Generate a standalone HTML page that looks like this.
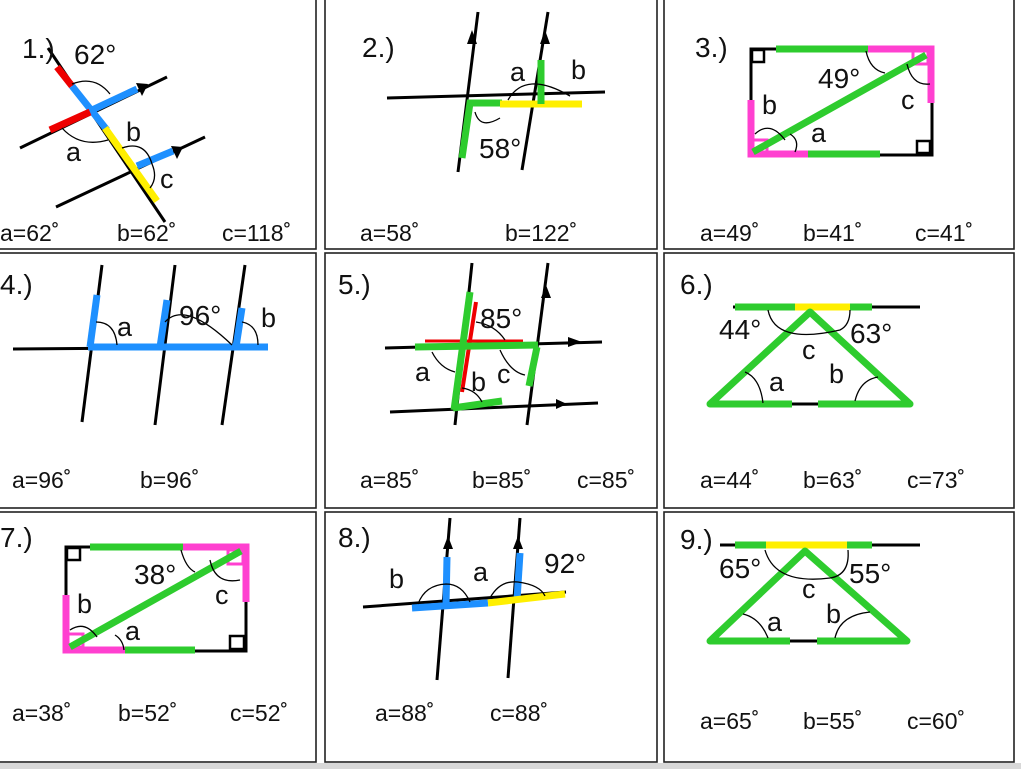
<!DOCTYPE html>
<html><head><style>
html,body{margin:0;padding:0;background:#fff;}
svg{display:block;}
text{font-family:"Liberation Sans",Arial,sans-serif;fill:#111;}
.n{font-size:28px;}
.l{font-size:27px;}
.d{font-size:28px;}
.b{font-size:23px;}
</style></head><body>
<svg width="1021" height="769" viewBox="0 0 1021 769" xmlns="http://www.w3.org/2000/svg">
<rect x="0" y="763" width="1021" height="6" fill="#d8d8d8"/>
<g fill="none" stroke="#222" stroke-width="1.6">
<rect x="-2" y="-2" width="318" height="251"/>
<rect x="325" y="-2" width="332" height="251"/>
<rect x="664" y="-2" width="350" height="251"/>
<rect x="-2" y="253" width="318" height="255"/>
<rect x="325" y="253" width="332" height="255"/>
<rect x="664" y="253" width="350" height="255"/>
<rect x="-2" y="512" width="318" height="250"/>
<rect x="325" y="512" width="332" height="250"/>
<rect x="664" y="512" width="350" height="250"/>
</g>

<!-- Panel 1 -->
<g stroke-linecap="butt">
<line x1="48" y1="48" x2="165" y2="222" stroke="#000" stroke-width="3"/>
<line x1="20" y1="148" x2="167" y2="77" stroke="#000" stroke-width="3"/>
<line x1="56" y1="207" x2="205" y2="137" stroke="#000" stroke-width="3"/>
<polygon points="148,84 136,83 142,96" fill="#000"/>
<polygon points="183,147 171,146 177,159" fill="#000"/>
<line x1="57" y1="67" x2="72" y2="86" stroke="#e00" stroke-width="7"/>
<line x1="72" y1="86" x2="107" y2="130" stroke="#1e90ff" stroke-width="7"/>
<line x1="105" y1="128" x2="157" y2="201" stroke="#ffef00" stroke-width="7"/>
<line x1="50" y1="130" x2="90" y2="112" stroke="#e00" stroke-width="7"/>
<line x1="92" y1="110" x2="137" y2="89" stroke="#1e90ff" stroke-width="7"/>
<line x1="137" y1="166" x2="173" y2="151" stroke="#1e90ff" stroke-width="7"/>
<path d="M72,84 Q95,75 110,94" fill="none" stroke="#000" stroke-width="1.3"/>
<path d="M62,128 Q80,148 108,140" fill="none" stroke="#000" stroke-width="1.3"/>
<path d="M122,148 Q145,140 152,164 Q158,178 150,188" fill="none" stroke="#000" stroke-width="1.3"/>
</g>
<text x="22" y="58" class="n">1.)</text>
<text x="74" y="64" class="d">62°</text>
<text x="66" y="161" class="l">a</text>
<text x="126" y="141" class="l">b</text>
<text x="160" y="188" class="l">c</text>
<text x="0" y="241" class="b">a=62˚</text>
<text x="117" y="241" class="b">b=62˚</text>
<text x="222" y="241" class="b">c=118˚</text>

<!-- Panel 2 -->
<line x1="458" y1="172" x2="478" y2="12" stroke="#000" stroke-width="3"/>
<line x1="522" y1="170" x2="548" y2="12" stroke="#000" stroke-width="3"/>
<polygon points="472,30 467,44 477,44" fill="#000"/>
<polygon points="545,30 540,44 550,44" fill="#000"/>
<line x1="387" y1="98" x2="605" y2="92" stroke="#000" stroke-width="3"/>
<polyline points="462,158 470,103 502,103" fill="none" stroke="#2ecc2e" stroke-width="7"/>
<line x1="500" y1="104" x2="582" y2="104" stroke="#ffef00" stroke-width="7"/>
<line x1="541" y1="60" x2="541" y2="104" stroke="#2ecc2e" stroke-width="7"/>
<path d="M508,100 Q525,70 570,96" fill="none" stroke="#000" stroke-width="1.3"/>
<path d="M475,112 Q480,130 500,118" fill="none" stroke="#000" stroke-width="1.3"/>
<text x="362" y="57" class="n">2.)</text>
<text x="510" y="81" class="l">a</text>
<text x="571" y="79" class="l">b</text>
<text x="479" y="158" class="d">58°</text>
<text x="360" y="241" class="b">a=58˚</text>
<text x="505" y="241" class="b">b=122˚</text>

<!-- Panel 3 -->
<rect x="751" y="49" width="181" height="106" fill="none" stroke="#000" stroke-width="3"/>
<rect x="752" y="50" width="12" height="12" fill="none" stroke="#000" stroke-width="2.5"/>
<rect x="917" y="141" width="13" height="12" fill="none" stroke="#000" stroke-width="2.5"/>
<line x1="776" y1="49" x2="868" y2="49" stroke="#2ecc2e" stroke-width="7"/>
<polyline points="868,49 931,49 931,103" fill="none" stroke="#ff40d0" stroke-width="7"/>
<rect x="913" y="51" width="15" height="13" fill="none" stroke="#ff40d0" stroke-width="3"/>
<polyline points="751,100 751,154 808,154" fill="none" stroke="#ff40d0" stroke-width="7"/>
<rect x="753" y="140" width="14" height="12" fill="none" stroke="#ff40d0" stroke-width="3"/>
<line x1="808" y1="154" x2="880" y2="154" stroke="#2ecc2e" stroke-width="7"/>
<line x1="753" y1="152" x2="926" y2="55" stroke="#2ecc2e" stroke-width="7"/>
<path d="M866,51 Q870,70 885,73" fill="none" stroke="#000" stroke-width="1.3"/>
<path d="M755,134 Q770,120 785,140" fill="none" stroke="#000" stroke-width="1.3"/>
<path d="M795,152 Q800,140 790,134" fill="none" stroke="#000" stroke-width="1.3"/>
<path d="M907,64 Q912,86 930,84" fill="none" stroke="#000" stroke-width="1.3"/>
<text x="695" y="57" class="n">3.)</text>
<text x="818" y="88" class="d">49°</text>
<text x="762" y="114" class="l">b</text>
<text x="811" y="142" class="l">a</text>
<text x="901" y="109" class="l">c</text>
<text x="700" y="241" class="b">a=49˚</text>
<text x="803" y="241" class="b">b=41˚</text>
<text x="915" y="241" class="b">c=41˚</text>

<!-- Panel 4 -->
<line x1="13" y1="349" x2="265" y2="347" stroke="#000" stroke-width="3"/>
<line x1="82" y1="422" x2="102" y2="265" stroke="#000" stroke-width="3"/>
<line x1="155" y1="425" x2="175" y2="265" stroke="#000" stroke-width="3"/>
<line x1="222" y1="425" x2="245" y2="265" stroke="#000" stroke-width="3"/>
<line x1="88" y1="347" x2="268" y2="347" stroke="#1e90ff" stroke-width="7"/>
<line x1="90" y1="347" x2="97" y2="295" stroke="#1e90ff" stroke-width="7"/>
<line x1="160" y1="347" x2="167" y2="300" stroke="#1e90ff" stroke-width="7"/>
<line x1="236" y1="347" x2="242" y2="308" stroke="#1e90ff" stroke-width="7"/>
<path d="M96,322 Q115,322 117,345" fill="none" stroke="#000" stroke-width="1.3"/>
<path d="M165,322 Q185,300 232,345" fill="none" stroke="#000" stroke-width="1.3"/>
<path d="M242,322 Q258,325 258,345" fill="none" stroke="#000" stroke-width="1.3"/>
<text x="0" y="294" class="n">4.)</text>
<text x="117" y="336" class="l">a</text>
<text x="179" y="325" class="d">96°</text>
<text x="261" y="327" class="l">b</text>
<text x="12" y="488" class="b">a=96˚</text>
<text x="140" y="488" class="b">b=96˚</text>

<!-- Panel 5 -->
<line x1="385" y1="348" x2="602" y2="342" stroke="#000" stroke-width="3"/>
<line x1="390" y1="412" x2="598" y2="403" stroke="#000" stroke-width="3"/>
<polygon points="582,342 568,337 568,347" fill="#000"/>
<polygon points="567,404 556,399 556,409" fill="#000"/>
<line x1="455" y1="425" x2="472" y2="263" stroke="#000" stroke-width="3"/>
<line x1="527" y1="425" x2="548" y2="263" stroke="#000" stroke-width="3"/>
<polygon points="546,285 541,298 551,298" fill="#000"/>
<line x1="425" y1="341" x2="523" y2="341" stroke="#e00" stroke-width="3"/>
<line x1="476" y1="302" x2="462" y2="392" stroke="#e00" stroke-width="4"/>
<line x1="415" y1="347" x2="538" y2="345" stroke="#2ecc2e" stroke-width="7"/>
<line x1="470" y1="292" x2="454" y2="410" stroke="#2ecc2e" stroke-width="7"/>
<line x1="453" y1="408" x2="502" y2="401" stroke="#2ecc2e" stroke-width="7"/>
<line x1="537" y1="347" x2="529" y2="386" stroke="#2ecc2e" stroke-width="7"/>
<path d="M476,322 Q495,325 505,340" fill="none" stroke="#000" stroke-width="1.3"/>
<path d="M432,352 Q440,368 455,372" fill="none" stroke="#000" stroke-width="1.3"/>
<path d="M462,388 Q476,390 482,402" fill="none" stroke="#000" stroke-width="1.3"/>
<path d="M500,350 Q510,372 525,375" fill="none" stroke="#000" stroke-width="1.3"/>
<text x="338" y="294" class="n">5.)</text>
<text x="480" y="328" class="d">85°</text>
<text x="415" y="381" class="l">a</text>
<text x="471" y="391" class="l">b</text>
<text x="497" y="383" class="l">c</text>
<text x="360" y="488" class="b">a=85˚</text>
<text x="472" y="488" class="b">b=85˚</text>
<text x="577" y="488" class="b">c=85˚</text>

<!-- Panel 6 -->
<line x1="733" y1="307" x2="920" y2="307" stroke="#000" stroke-width="3"/>
<line x1="735" y1="307" x2="795" y2="307" stroke="#2ecc2e" stroke-width="7"/>
<line x1="795" y1="307" x2="850" y2="307" stroke="#ffef00" stroke-width="7"/>
<line x1="850" y1="307" x2="872" y2="307" stroke="#2ecc2e" stroke-width="7"/>
<line x1="790" y1="404" x2="818" y2="404" stroke="#000" stroke-width="3"/>
<polyline points="792,404 710,404 810,312 910,404 818,404" fill="none" stroke="#2ecc2e" stroke-width="7" stroke-linejoin="round"/>
<path d="M768,310 Q775,345 840,330 Q850,325 850,310" fill="none" stroke="#000" stroke-width="1.3"/>
<path d="M745,372 Q760,378 763,403" fill="none" stroke="#000" stroke-width="1.3"/>
<path d="M855,401 Q860,380 878,377" fill="none" stroke="#000" stroke-width="1.3"/>
<text x="680" y="294" class="n">6.)</text>
<text x="719" y="339" class="d">44°</text>
<text x="850" y="343" class="d">63°</text>
<text x="802" y="359" class="l">c</text>
<text x="769" y="391" class="l">a</text>
<text x="829" y="383" class="l">b</text>
<text x="700" y="488" class="b">a=44˚</text>
<text x="803" y="488" class="b">b=63˚</text>
<text x="907" y="488" class="b">c=73˚</text>

<!-- Panel 7 -->
<rect x="66" y="547" width="180" height="104" fill="none" stroke="#000" stroke-width="3"/>
<rect x="67" y="548" width="13" height="12" fill="none" stroke="#000" stroke-width="2.5"/>
<rect x="230" y="636" width="14" height="13" fill="none" stroke="#000" stroke-width="2.5"/>
<line x1="90" y1="547" x2="183" y2="547" stroke="#2ecc2e" stroke-width="7"/>
<polyline points="183,547 246,547 246,602" fill="none" stroke="#ff40d0" stroke-width="7"/>
<rect x="228" y="550" width="15" height="14" fill="none" stroke="#ff40d0" stroke-width="3"/>
<polyline points="66,595 66,650 125,650" fill="none" stroke="#ff40d0" stroke-width="7"/>
<rect x="68" y="634" width="15" height="13" fill="none" stroke="#ff40d0" stroke-width="3"/>
<line x1="125" y1="650" x2="195" y2="650" stroke="#2ecc2e" stroke-width="7"/>
<line x1="70" y1="647" x2="241" y2="551" stroke="#2ecc2e" stroke-width="7"/>
<path d="M181,550 Q186,568 195,572" fill="none" stroke="#000" stroke-width="1.3"/>
<path d="M70,630 Q85,620 97,637" fill="none" stroke="#000" stroke-width="1.3"/>
<path d="M115,635 Q123,640 124,650" fill="none" stroke="#000" stroke-width="1.3"/>
<path d="M210,560 Q215,585 240,580" fill="none" stroke="#000" stroke-width="1.3"/>
<text x="0" y="547" class="n">7.)</text>
<text x="134" y="584" class="d">38°</text>
<text x="77" y="613" class="l">b</text>
<text x="215" y="604" class="l">c</text>
<text x="125" y="640" class="l">a</text>
<text x="12" y="721" class="b">a=38˚</text>
<text x="118" y="721" class="b">b=52˚</text>
<text x="230" y="721" class="b">c=52˚</text>

<!-- Panel 8 -->
<line x1="363" y1="607" x2="566" y2="592" stroke="#000" stroke-width="3"/>
<line x1="437" y1="680" x2="450" y2="518" stroke="#000" stroke-width="3"/>
<line x1="508" y1="678" x2="520" y2="518" stroke="#000" stroke-width="3"/>
<polygon points="448,536 443,549 453,549" fill="#000"/>
<polygon points="518,536 513,549 523,549" fill="#000"/>
<line x1="447" y1="557" x2="446" y2="605" stroke="#1e90ff" stroke-width="7"/>
<line x1="412" y1="608" x2="488" y2="603" stroke="#1e90ff" stroke-width="7"/>
<line x1="520" y1="553" x2="517" y2="600" stroke="#1e90ff" stroke-width="7"/>
<line x1="488" y1="603" x2="565" y2="594" stroke="#ffef00" stroke-width="7"/>
<path d="M418,604 Q425,585 446,584 Q462,584 470,602" fill="none" stroke="#000" stroke-width="1.3"/>
<path d="M490,598 Q500,580 518,582 Q540,585 545,596" fill="none" stroke="#000" stroke-width="1.3"/>
<text x="338" y="547" class="n">8.)</text>
<text x="389" y="588" class="l">b</text>
<text x="473" y="581" class="l">a</text>
<text x="544" y="573" class="d">92°</text>
<text x="375" y="721" class="b">a=88˚</text>
<text x="490" y="721" class="b">c=88˚</text>

<!-- Panel 9 -->
<line x1="720" y1="545" x2="920" y2="545" stroke="#000" stroke-width="3"/>
<line x1="735" y1="545" x2="766" y2="545" stroke="#2ecc2e" stroke-width="7"/>
<line x1="766" y1="545" x2="847" y2="545" stroke="#ffef00" stroke-width="7"/>
<line x1="847" y1="545" x2="872" y2="545" stroke="#2ecc2e" stroke-width="7"/>
<line x1="790" y1="641" x2="817" y2="641" stroke="#000" stroke-width="3"/>
<polyline points="790,641 710,641 805,551 907,641 817,641" fill="none" stroke="#2ecc2e" stroke-width="7" stroke-linejoin="round"/>
<path d="M765,550 Q775,585 830,578 Q850,575 848,550" fill="none" stroke="#000" stroke-width="1.3"/>
<path d="M743,614 Q760,618 768,638" fill="none" stroke="#000" stroke-width="1.3"/>
<path d="M835,638 Q840,615 870,612" fill="none" stroke="#000" stroke-width="1.3"/>
<text x="680" y="549" class="n">9.)</text>
<text x="719" y="578" class="d">65°</text>
<text x="849" y="583" class="d">55°</text>
<text x="802" y="598" class="l">c</text>
<text x="767" y="631" class="l">a</text>
<text x="826" y="623" class="l">b</text>
<text x="700" y="729" class="b">a=65˚</text>
<text x="803" y="729" class="b">b=55˚</text>
<text x="907" y="729" class="b">c=60˚</text>
</svg>
</body></html>
